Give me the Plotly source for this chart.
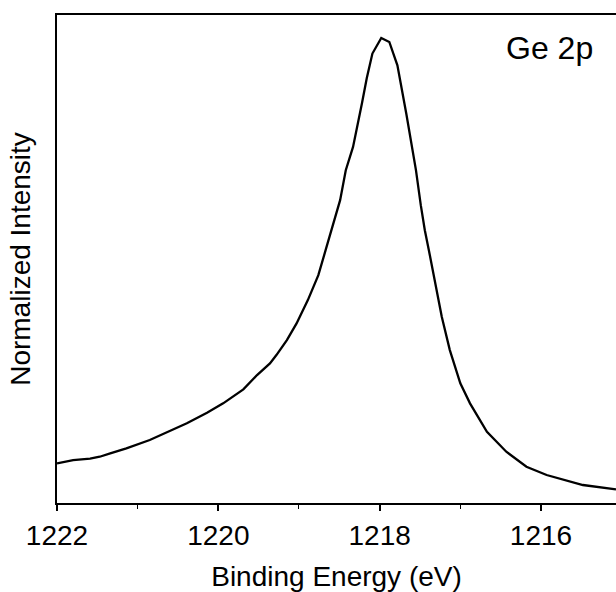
import plotly.graph_objects as go

binding_energy = [1222.00, 1221.80, 1221.59, 1221.47, 1221.34, 1221.14, 1220.85, 1220.64,
                  1220.39, 1220.14, 1219.94, 1219.69, 1219.52, 1219.36, 1219.28, 1219.15,
                  1219.03, 1218.89, 1218.76, 1218.67, 1218.57, 1218.49, 1218.42, 1218.33,
                  1218.22, 1218.16, 1218.09, 1217.98, 1217.88, 1217.78, 1217.67, 1217.55,
                  1217.49, 1217.44, 1217.39, 1217.31, 1217.23, 1217.13, 1217.00, 1216.88,
                  1216.67, 1216.43, 1216.18, 1215.93, 1215.68, 1215.48, 1215.07]
intensity = [0.0853, 0.0924, 0.0952, 0.0995, 0.1068, 0.1176, 0.1354, 0.1511,
             0.1713, 0.1941, 0.2143, 0.2444, 0.2751, 0.3002, 0.3181, 0.3503,
             0.3862, 0.4363, 0.4900, 0.5437, 0.6039, 0.6512, 0.7157, 0.7657,
             0.8590, 0.9134, 0.9665, 1.0000, 0.9914, 0.9413, 0.8375, 0.7157,
             0.6404, 0.5867, 0.5437, 0.4722, 0.4004, 0.3288, 0.2573, 0.2143,
             0.1532, 0.1103, 0.0780, 0.0602, 0.0479, 0.0387, 0.0294]
tick_values = [1222, 1220, 1218, 1216]
tick_labels = ["1222", "1220", "1218", "1216"]

FONT = "Liberation Sans, Arial, sans-serif"

fig = go.Figure()
fig.add_trace(go.Scatter(x=binding_energy, y=intensity, mode="lines",
                         line=dict(color="black", width=2.3), showlegend=False,
                         hoverinfo="skip"))

fig.update_layout(
    width=616, height=592,
    margin=dict(l=57, r=0, t=15, b=89),
    paper_bgcolor="white", plot_bgcolor="white",
    font=dict(family=FONT, color="black"),
    xaxis=dict(range=[1222, 1215.07], tickvals=tick_values, ticktext=tick_labels,
               ticks="outside", ticklen=6, tickwidth=1.5, tickcolor="black",
               minor=dict(dtick=1, tick0=1221, ticks="outside", ticklen=4, tickwidth=1.2, tickcolor="black"),
               showline=True, linecolor="black", linewidth=2, mirror=True,
               showgrid=False, zeroline=False,
               tickfont=dict(size=28, family=FONT),
               title=dict(text="Binding Energy (eV)", font=dict(size=28, family=FONT), standoff=19)),
    yaxis=dict(range=[0, 1.0494], showticklabels=False, ticks="",
               showline=True, linecolor="black", linewidth=2, mirror=False,
               showgrid=False, zeroline=False,
               title=dict(text="Normalized Intensity", font=dict(size=28, family=FONT), standoff=16)),
    annotations=[dict(text="Ge 2p", xref="paper", yref="paper", x=0.9624, y=0.932,
                      xanchor="right", yanchor="middle", showarrow=False,
                      font=dict(size=32, family=FONT, color="black"))],
)

fig.write_html("out.html", config={"displayModeBar": False},
               post_script="document.body.style.margin='0';document.body.style.overflow='hidden';")
